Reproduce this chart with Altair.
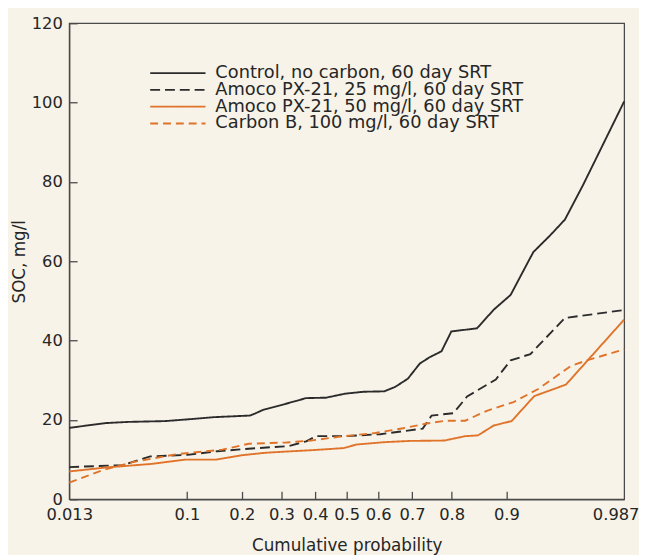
import altair as alt
import pandas as pd
from statistics import NormalDist

series_names = [
    "Control, no carbon, 60 day SRT",
    "Amoco PX-21, 25 mg/l, 60 day SRT",
    "Amoco PX-21, 50 mg/l, 60 day SRT",
    "Carbon B, 100 mg/l, 60 day SRT",
]
series_colors = ["#2b2b2b", "#2b2b2b", "#E0732A", "#E0732A"]
series_dashes = [[1, 0], [10, 5], [1, 0], [8, 5]]

control_p = [0.013, 0.0266, 0.040, 0.0725, 0.1053, 0.1443, 0.2188, 0.2306, 0.2529,
             0.3061, 0.3726, 0.4339, 0.4937, 0.5535, 0.6183, 0.6510, 0.6883, 0.7211,
             0.7471, 0.7765, 0.7994, 0.8521, 0.8810, 0.9057, 0.9328, 0.9486, 0.9600,
             0.9708, 0.987]
control_soc = [18.0, 19.2, 19.5, 19.7, 20.2, 20.7, 21.1, 21.6, 22.6,
               23.9, 25.5, 25.6, 26.6, 27.1, 27.2, 28.3, 30.4, 34.2,
               35.8, 37.3, 42.3, 43.1, 47.8, 51.5, 62.3, 66.5, 70.5,
               79.0, 100.3]

px25_p = [0.013, 0.0361, 0.0575, 0.1011, 0.1497, 0.2235, 0.3201, 0.3726, 0.4030,
          0.4968, 0.6061, 0.7290, 0.7521, 0.8038, 0.8330, 0.8713, 0.8842, 0.9057,
          0.9297, 0.9600, 0.987]
px25_soc = [8.1, 8.6, 10.8, 11.2, 12.1, 12.8, 13.4, 14.6, 15.9,
            15.9, 16.4, 17.8, 21.1, 21.7, 25.9, 29.0, 30.2, 35.0,
            36.6, 45.7, 47.7]

px50_p = [0.013, 0.0266, 0.0584, 0.0983, 0.1479, 0.2005, 0.2554, 0.3089, 0.3969,
          0.4905, 0.5315, 0.6213, 0.6939, 0.7835, 0.8291, 0.8539, 0.8810, 0.9071,
          0.9338, 0.9607, 0.987]
px50_soc = [7.0, 8.0, 8.9, 10.0, 10.0, 11.1, 11.7, 12.0, 12.4,
            12.9, 13.8, 14.4, 14.7, 14.8, 15.9, 16.1, 18.6, 19.7,
            26.0, 28.9, 45.3]

carbonb_p = [0.013, 0.0261, 0.0435, 0.0878, 0.1591, 0.2164, 0.3144, 0.3877, 0.4810,
             0.5908, 0.6742, 0.7394, 0.7881, 0.8291, 0.8697, 0.9097, 0.9378, 0.9639,
             0.9729, 0.987]
carbonb_soc = [4.2, 7.5, 9.4, 11.4, 12.5, 14.0, 14.3, 14.8, 15.8,
               16.7, 17.9, 19.1, 19.8, 19.8, 22.3, 24.5, 27.8, 33.6,
               35.0, 37.8]

x_label_probs = [0.013, 0.1, 0.2, 0.3, 0.4, 0.5, 0.6, 0.7, 0.8, 0.9, 0.987]
x_tick_probs = [0.1, 0.2, 0.3, 0.4, 0.5, 0.6, 0.7, 0.8, 0.9]
y_ticks = [0, 20, 40, 60, 80, 100, 120]

nd = NormalDist()
z_min = nd.inv_cdf(x_label_probs[0])
z_max = nd.inv_cdf(x_label_probs[-1])
x_label_z = [nd.inv_cdf(p) for p in x_label_probs]
x_tick_z = [nd.inv_cdf(p) for p in x_tick_probs]

rows = []
for name, ps, vs in zip(series_names,
                        [control_p, px25_p, px50_p, carbonb_p],
                        [control_soc, px25_soc, px50_soc, carbonb_soc]):
    for i, (p, v) in enumerate(zip(ps, vs)):
        rows.append({"series": name, "p": p, "soc": v, "order": i})
df = pd.DataFrame(rows)

W, H = 562, 482
FONT = "DejaVu Sans"
TXT = "#262626"
AX = "#4a4a4a"

x_scale = alt.Scale(domain=[z_min, z_max], nice=False, zero=False)
y_scale = alt.Scale(domain=[0, 120], nice=False, zero=False)

legend = alt.Legend(
    title=None, orient="none", legendX=81, legendY=43,
    symbolType="stroke", symbolSize=3136, symbolStrokeWidth=1.8,
    labelFont=FONT, labelFontSize=18, labelColor=TXT, labelOffset=9,
    clipHeight=15, rowPadding=-2, padding=0, labelLimit=400,
)

last_test = f"datum.value > {z_max - 0.01}"

base = alt.Chart(df).transform_calculate(z="quantileNormal(datum.p)")

lines = base.mark_line(strokeWidth=1.9).encode(
    x=alt.X("z:Q", scale=x_scale,
            axis=alt.Axis(values=x_label_z,
                          labelExpr="format(cumulativeNormal(datum.value), '.3~f')",
                          title="Cumulative probability", ticks=False, grid=False,
                          labelFlush=False, labelPadding=8, titlePadding=14,
                          labelOverlap=False,
                          labelAlign={"condition": {"test": last_test, "value": "right"},
                                      "value": "center"},
                          labelOffset={"condition": {"test": last_test, "value": 15},
                                       "value": 0})),
    y=alt.Y("soc:Q", scale=y_scale,
            axis=alt.Axis(values=y_ticks, ticks=False, grid=False,
                          title="SOC, mg/l", labelPadding=7, titlePadding=3)),
    color=alt.Color("series:N", scale=alt.Scale(domain=series_names, range=series_colors),
                    legend=legend),
    strokeDash=alt.StrokeDash("series:N",
                              scale=alt.Scale(domain=series_names, range=series_dashes),
                              legend=legend),
    order="order:Q",
)

inner_ticks = base.mark_line(strokeOpacity=0).encode(
    x=alt.X("z:Q", scale=x_scale,
            axis=alt.Axis(orient="top", offset=-H, values=x_tick_z, labels=False,
                          domain=False, tickSize=8, title=None, grid=False)),
    y=alt.Y("soc:Q", scale=y_scale,
            axis=alt.Axis(orient="right", offset=-W, values=y_ticks, labels=False,
                          domain=False, tickSize=8, title=None, grid=False)),
    detail="series:N",
    order="order:Q",
)

chart = (
    alt.layer(lines, inner_ticks)
    .resolve_axis(x="independent", y="independent")
    .properties(
        width=W, height=H,
        autosize=alt.AutoSizeParams(type="none"),
        padding={"left": 62, "top": 12, "right": 15, "bottom": 53},
        background="#F7F3E8",
    )
    .configure_view(stroke=AX, strokeWidth=1.3)
    .configure_axis(
        labelFont=FONT, titleFont=FONT, labelFontSize=16.5, titleFontSize=17,
        labelColor=TXT, titleColor=TXT, titleFontWeight="normal",
        domainColor=AX, tickColor=AX, domainWidth=1.3, tickWidth=1.3,
    )
)

chart.save("out.html", embed_options={"renderer": "svg", "actions": False})
